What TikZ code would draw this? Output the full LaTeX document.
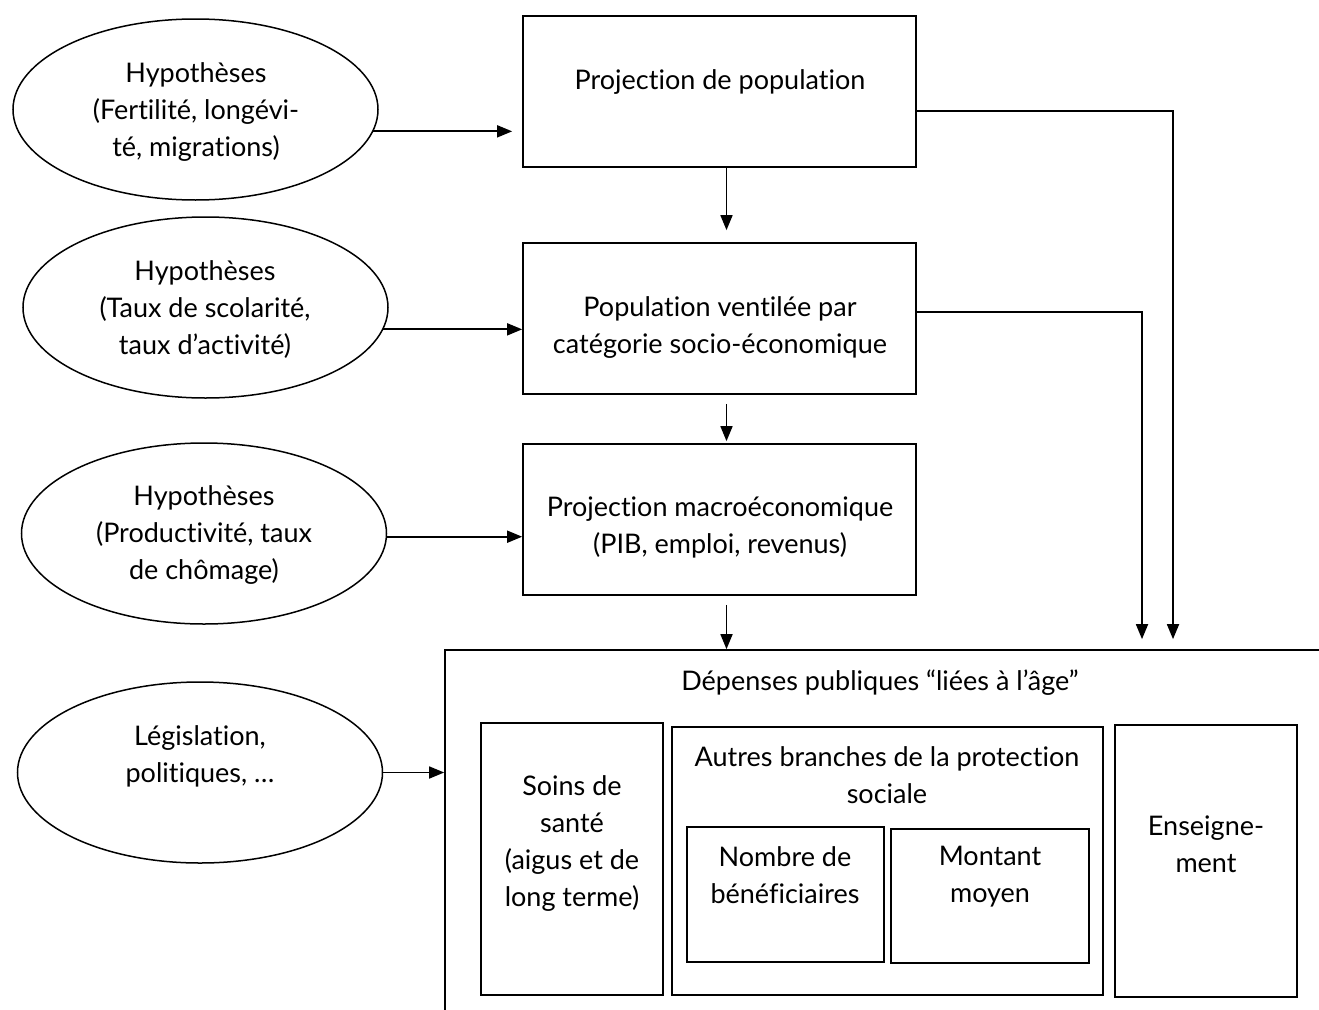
\documentclass[tikz,border=0pt]{standalone}
\usepackage{fontspec}
\setmainfont{Lato}[Ligatures={NoCommon}]
\usetikzlibrary{arrows.meta,shapes.geometric}
\begin{document}
\begin{tikzpicture}[x=1pt,y=-1pt,
  line width=1.7pt,
  ell/.style={draw,ellipse,inner sep=0pt,minimum width=365pt,minimum height=181pt,line width=1.5pt},
  boxn/.style={draw,rectangle,inner sep=0pt},
  txt/.style={align=center,inner sep=0pt,font=\fontsize{27pt}{37pt}\selectfont},
  arr/.style={-{Triangle[length=15pt,width=12pt]}},
]
\useasboundingbox (0,0) rectangle (1319,1009);
\fill[white] (0,0) rectangle (1319,1009);
\clip (0,0) rectangle (1319,1009);

% ellipses
\node[ell] (h1) at (195.5,109.5) {};
\node[ell] (h2) at (205.5,307.5) {};
\node[ell] (h3) at (204,533.5) {};
\node[ell] (h4) at (200,772.5) {};
\node[txt] (h1t) at (196,112.5) {Hypothèses\\(Fertilité, longévi-\\té, migrations)};
\node[txt] (h2t) at (205,310) {Hypothèses\\(Taux de scolarité,\\taux d’activité)};
\node[txt] (h3t) at (204,535) {Hypothèses\\(Productivité, taux\\de chômage)};
\node[txt] (h4t) at (200,756) {Législation,\\politiques, …};

% main boxes
\node[boxn,minimum width=393pt,minimum height=151pt] (p1) at (719.5,91.5) {};
\node[boxn,minimum width=393pt,minimum height=151pt] (p2) at (719.5,318.5) {};
\node[boxn,minimum width=393pt,minimum height=151pt] (p3) at (719.5,519.5) {};
\node[txt] (p1t) at (720,82) {Projection de population};
\node[txt] (p2t) at (720,327.5) {Population ventilée par\\catégorie socio-économique};
\node[txt] (p3t) at (720,527.5) {Projection macroéconomique\\(PIB, emploi, revenus)};

% big box (runs off the page on the right and bottom)
\node[boxn,minimum width=900pt,minimum height=385pt] (dep) at (895,842.5) {};
\node[txt] (dept) at (880,683) {Dépenses publiques “liées à l’âge”};

\node[boxn,minimum width=182pt,minimum height=272pt] (soins) at (572,859) {};
\node[boxn,minimum width=431pt,minimum height=268pt] (autres) at (887.5,861) {};
\node[boxn,minimum width=197pt,minimum height=135pt] (nombre) at (785.5,894.5) {};
\node[boxn,minimum width=198pt,minimum height=134pt] (montant) at (990,896) {};
\node[boxn,minimum width=182pt,minimum height=272pt] (enseig) at (1206,861) {};
\node[txt] (soinst) at (572,844) {Soins de\\santé\\(aigus et de\\long terme)};
\node[txt] (autrest) at (887,775.5) {Autres branches de la protection\\sociale};
\node[txt] (nombret) at (785,875.5) {Nombre de\\bénéficiaires};
\node[txt] (montantt) at (990,876.5) {Montant\\moyen};
\node[txt] (enseigt) at (1206,844.5) {Enseigne-\\ment};

% connectors
\coordinate (r1) at (1173,0);
\coordinate (r2) at (1142,0);
\draw[arr,shorten >=10pt] (h1.-7.2) -- (h1.-7.2 -| p1.west);
\draw[arr] (h2.-7.9) -- (h2.-7.9 -| p2.west);
\draw[arr] (h3.-1.1) -- (h3.-1.1 -| p3.west);
\draw[arr] (h4.east) -- (h4.east -| dep.west);
\draw[arr,shorten >=12pt] ([xshift=7pt]p1.south) -- ([xshift=7pt]p2.north);
\draw[arr,shorten <=9pt,shorten >=2pt] ([xshift=7pt]p2.south) -- ([xshift=7pt]p3.north);
\draw[arr,shorten <=9pt] ([xshift=7pt]p3.south) -- ([xshift=7pt]p3.south |- dep.north);
\draw[arr,shorten >=10pt] ([yshift=-19.5pt]p1.east) -| (r1 |- dep.north);
\draw[arr,shorten >=10pt] ([yshift=6.5pt]p2.east) -| (r2 |- dep.north);
\end{tikzpicture}
\end{document}
